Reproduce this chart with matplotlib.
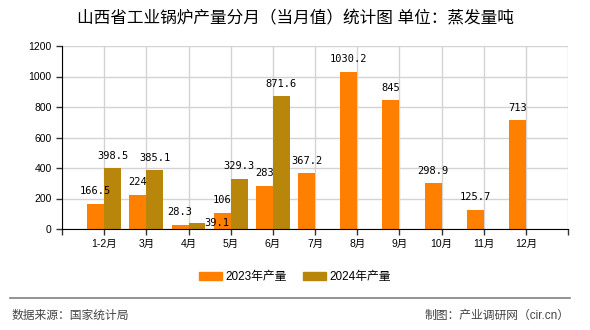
import numpy as np
import matplotlib.pyplot as plt
from matplotlib.patches import Patch

plt.rcParams['font.family'] = ['Liberation Sans', 'Noto Sans CJK SC', 'DejaVu Sans']

# data
months = ["1-2月", "3月", "4月", "5月", "6月", "7月", "8月", "9月", "10月", "11月", "12月"]
prod_2023 = [166.5, 224, 28.3, 106, 283, 367.2, 1030.2, 845, 298.9, 125.7, 713]
prod_2024 = [398.5, 385.1, 39.1, 329.3, 871.6]
labels_2023 = ["166.5", "224", "28.3", "106", "283", "367.2", "1030.2", "845", "298.9", "125.7", "713"]
labels_2024 = ["398.5", "385.1", "39.1", "329.3", "871.6"]

c23 = "#ff8000"
c24 = "#b8860b"

fig = plt.figure(figsize=(5.9, 3.3), dpi=100)
ax = fig.add_axes([62 / 590, 1 - 229 / 330, 506 / 590, 183 / 330])

x23 = np.arange(1, len(prod_2023) + 1)
x24 = np.arange(1, len(prod_2024) + 1)
bw = 0.4
ax.bar(x23 - bw / 2, prod_2023, bw, color=c23, zorder=3)
ax.bar(x24 + bw / 2, prod_2024, bw, color=c24, zorder=3)

# value labels
mono = ['DejaVu Sans Mono']
for xi, v, s in zip(x23, prod_2023, labels_2023):
    ax.annotate(s, (xi - bw / 2, v), xytext=(0, 9), textcoords="offset points",
                ha="center", va="center", fontsize=7.5, family=mono, zorder=4)
for xi, v, s in zip(x24, prod_2024, labels_2024):
    dx, dy = (14, 0) if s == "39.1" else (0, 9)
    ax.annotate(s, (xi + bw / 2, v), xytext=(dx, dy), textcoords="offset points",
                ha="center", va="center", fontsize=7.5, family=mono, zorder=4)

# axes setup
ax.set_xlim(0, 12)
ax.set_ylim(0, 1200)
ax.set_yticks(range(0, 1201, 200))
ax.set_xticks(range(0, 13))
ax.set_xticklabels([""] + months + [""])
ax.grid(True, axis="both", color="#d3d3d3", lw=1, zorder=0)
ax.tick_params(axis="both", labelsize=7.5, length=4, width=1, color="#333333")
for side in ["top", "right"]:
    ax.spines[side].set_visible(False)
for side in ["left", "bottom"]:
    ax.spines[side].set_color("black")
    ax.spines[side].set_zorder(5)

fig.text(0.5, 1 - 18 / 330, "山西省工业锅炉产量分月（当月值）统计图 单位：蒸发量吨",
         ha="center", va="center", fontsize=12)

handles = [Patch(color=c23, label="2023年产量"), Patch(color=c24, label="2024年产量")]
fig.legend(handles=handles, loc="center", bbox_to_anchor=(0.5, 1 - 277 / 330), ncol=2,
           frameon=False, fontsize=8.5, handlelength=1.9, handleheight=0.7,
           handletextpad=0.3, columnspacing=1.4)

fig.add_artist(plt.Line2D([10 / 590, 570 / 590], [1 - 298 / 330] * 2, color="#808080", lw=1.2))
fig.text(12 / 590, 1 - 316 / 330, "数据来源：国家统计局", ha="left", va="center",
         fontsize=8.5, color="#444444")
fig.text(570 / 590, 1 - 316 / 330, "制图：产业调研网（cir.cn）", ha="right", va="center",
         fontsize=8.5, color="#444444")

fig.savefig("out.png", dpi=100)
